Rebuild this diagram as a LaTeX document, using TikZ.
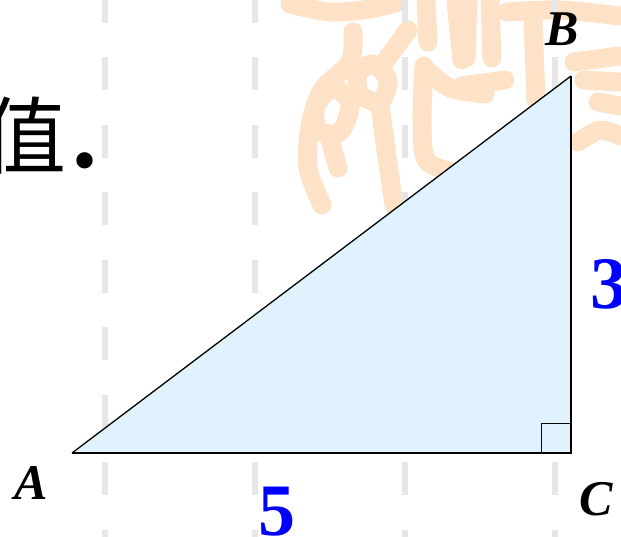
\documentclass[tikz,border=0pt]{standalone}
\usepackage{fontspec}
\usetikzlibrary{calc}
\setmainfont{Liberation Serif}
\newfontfamily\cjk{Noto Sans CJK SC}
\definecolor{wmcol}{RGB}{253,226,200}
\definecolor{trifill}{RGB}{224,242,254}
\definecolor{gridgray}{RGB}{230,230,230}
\definecolor{numblue}{RGB}{0,0,255}
\begin{document}
\begin{tikzpicture}[x=1pt,y=-1pt,
  wm/.style={draw=wmcol,line width=19pt,line cap=round,line join=round},
  gridline/.style={draw=gridgray,line width=6pt,dash pattern=on 33pt off 34.5pt},
  vlabel/.style={font=\fontsize{50}{50}\selectfont\bfseries\itshape,inner sep=0pt,anchor=base},
  numlabel/.style={font=\fontsize{74}{74}\selectfont\bfseries,text=numblue,inner sep=0pt},
  side/.style={draw=black,line width=1.5pt,line join=miter}]
\useasboundingbox (0,0) rectangle (621,536);
% watermark
\draw[wm] plot[smooth] coordinates {(290,4) (330,12) (370,9) (398,2)};
\draw[wm] plot[smooth] coordinates {(353,32) (350,62) (322,90) (310,126) (308,168) (322,205)};
\draw[wm] plot[smooth cycle] coordinates {(373,64) (388,80) (380,102) (360,94) (358,74)};
\draw[wm] plot[smooth cycle] coordinates {(333,88) (350,104) (340,132) (318,130) (316,106)};
\draw[wm] plot[smooth] coordinates {(408,30) (392,52) (380,68)};
\draw[wm] plot[smooth] coordinates {(380,105) (386,150) (394,205)};
\draw[wm] plot[smooth] coordinates {(330,140) (338,168)};
\draw[wm] plot[smooth] coordinates {(424,66) (422,120) (426,160) (452,172)};
\draw[wm] plot[smooth] coordinates {(426,70) (450,88) (485,94)};
\draw[wm] plot[smooth] coordinates {(426,2) (428,42)};
\draw[wm] plot[smooth] coordinates {(456,2) (462,60)};
\draw[wm] plot[smooth] coordinates {(490,0) (492,58)};
\draw[wm] plot[smooth] coordinates {(468,0) (466,58)};
\draw[wm] plot[smooth] coordinates {(507,12) (560,10) (620,16)};
\draw[wm] plot[smooth] coordinates {(533,22) (536,100)};
\draw[wm] plot[smooth] coordinates {(462,86) (505,80)};
\draw[wm] plot[smooth] coordinates {(574,62) (620,56)};
\draw[wm] plot[smooth] coordinates {(584,80) (620,82)};
\draw[wm] plot[smooth] coordinates {(598,102) (620,106)};
\draw[wm] plot[smooth] coordinates {(578,142) (600,130) (620,136)};
% grid lines
\foreach \gx in {105,255,405,555}
  \draw[gridline] (\gx,-10.5) -- (\gx,540);
% triangle
\coordinate (A) at (72,453);
\coordinate (B) at (571,76);
\coordinate (C) at (571,453);
\fill[trifill] (A) -- (B) -- (C) -- cycle;
\draw[line width=1.3pt] (A) -- (B);
\draw[side] (A) -- (C) -- (B);
\draw[line width=1pt] ($(C)+(-30,0)$) -- ++(0,-30) -- ++(30,0);
% labels
\node[vlabel] (lB) at (562,45) {B};
\node[vlabel] (lA) at (31,499) {A};
\node[vlabel] (lC) at (596,515) {C};
\node[numlabel,anchor=base] (l5) at (277,535) {5};
\node[numlabel,anchor=base west] (l3) at (590,308) {3};
% text
\node[font=\cjk\fontsize{84}{84}\selectfont,inner sep=0pt,anchor=base] (t1) at (25,167) {值};
\node[font=\fontsize{100}{100}\selectfont\bfseries,inner sep=0pt,anchor=base] (t2) at (85,167) {.};
\end{tikzpicture}
\end{document}
